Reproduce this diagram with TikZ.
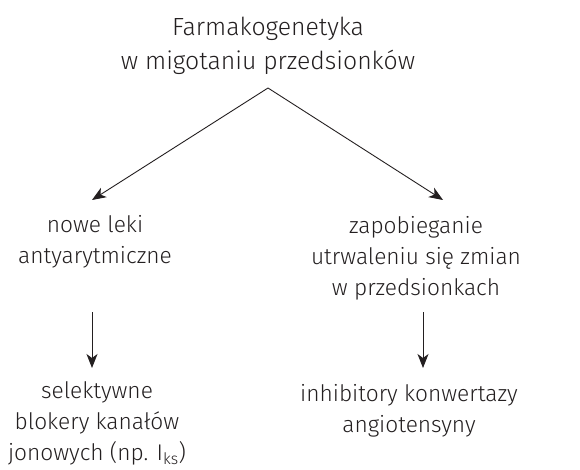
\documentclass[tikz,border=0pt]{standalone}
\usepackage{fontspec}
\setmainfont{Fira Sans Light}
\usetikzlibrary{arrows.meta}
\definecolor{ink}{HTML}{231F20}
\tikzset{
  lbl/.style={text=ink, align=center, inner sep=0pt, font=\fontsize{22.7}{31}\selectfont},
  ttl/.style={text=ink, align=center, inner sep=0pt, font=\fontsize{24.8}{34}\selectfont},
  arr/.style={draw=ink, line width=0.9pt, -{Stealth[length=14pt,width=11pt,inset=4pt]}}
}
\begin{document}
\begin{tikzpicture}[x=1pt,y=1pt]
\useasboundingbox (0,0) rectangle (580,469);
\node[ttl, anchor=base] (title) at (268,{469-70}) {Farmakogenetyka\\w migotaniu przedsionków};
\node[lbl, anchor=base] (a) at (95,{469-263}) {nowe leki\\antyarytmiczne};
\node[lbl, anchor=base] (b) at (416,{469-295}) {zapobieganie\\utrwaleniu się zmian\\w przedsionkach};
\node[lbl, anchor=base] (c) at (97,{469-460}) {selektywne\\blokery kanałów\\jonowych (np. I\textsubscript{ks})};
\node[lbl, anchor=base] (d) at (409,{469-432}) {inhibitory konwertazy\\angiotensyny};
\coordinate (apex) at (268,{469-88});
\coordinate (ta) at (92,{469-200});
\coordinate (tb) at (443,{469-200});
\draw[arr] (apex) -- (ta);
\draw[arr] (apex) -- (tb);
\coordinate (a1) at (92,{469-312});
\coordinate (a2) at (92,{469-368});
\coordinate (b1) at (423,{469-312});
\coordinate (b2) at (423,{469-368});
\draw[arr] (a1) -- (a2);
\draw[arr] (b1) -- (b2);
\end{tikzpicture}
\end{document}
